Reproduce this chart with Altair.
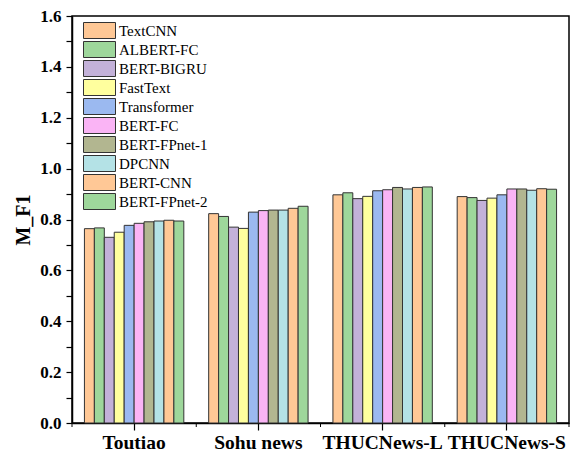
import altair as alt
import pandas as pd

datasets = ["Toutiao", "Sohu news", "THUCNews-L", "THUCNews-S"]
models = ["TextCNN", "ALBERT-FC", "BERT-BIGRU", "FastText", "Transformer",
          "BERT-FC", "BERT-FPnet-1", "DPCNN", "BERT-CNN", "BERT-FPnet-2"]
colors = ["#FFC896", "#9ED79B", "#C3B1D9", "#FFFF9E", "#9BB9F0",
          "#FAB4F5", "#B2B690", "#B4E2E6", "#FFC896", "#9ED79B"]

toutiao = [0.764, 0.767, 0.730, 0.750, 0.777, 0.785, 0.791, 0.794, 0.797, 0.794]
sohu = [0.823, 0.812, 0.770, 0.765, 0.829, 0.835, 0.837, 0.837, 0.844, 0.852]
thuc_l = [0.897, 0.905, 0.882, 0.891, 0.913, 0.917, 0.926, 0.920, 0.926, 0.928]
thuc_s = [0.890, 0.886, 0.875, 0.884, 0.897, 0.920, 0.920, 0.915, 0.921, 0.919]

y_ticks = [0.0, 0.1, 0.2, 0.3, 0.4, 0.5, 0.6, 0.7, 0.8, 0.9, 1.0, 1.1, 1.2, 1.3, 1.4, 1.5, 1.6]

rows = []
for ds, vals in zip(datasets, [toutiao, sohu, thuc_l, thuc_s]):
    for m, v in zip(models, vals):
        rows.append({"dataset": ds, "model": m, "value": v})
df = pd.DataFrame(rows)
cat_df = pd.DataFrame({"dataset": datasets})
last_df = pd.DataFrame({"dataset": datasets[-1:]})

W, H = 497, 407
PAD_INNER = 0.2
STEP = W / len(datasets)
SERIF = "Liberation Serif"

xscale = alt.Scale(domain=datasets, paddingInner=PAD_INNER, paddingOuter=PAD_INNER / 2)

bars = alt.Chart(df).mark_bar(stroke="#333333", strokeWidth=1).encode(
    x=alt.X("dataset:N", sort=datasets, scale=xscale,
            axis=alt.Axis(title=None, labelAngle=0, labelFont=SERIF, labelFontSize=19.5,
                          labelFontWeight="bold", labelColor="black", tickSize=7,
                          tickColor="black", domainColor="black", labelPadding=3)),
    xOffset=alt.XOffset("model:N", sort=models, scale=alt.Scale(domain=models, paddingInner=0, paddingOuter=0)),
    y=alt.Y("value:Q", scale=alt.Scale(domain=[0, 1.6], nice=False),
            axis=alt.Axis(title="M_F1", values=y_ticks, grid=False,
                          labelExpr="(round(datum.value*10) % 2 == 0) ? format(datum.value, '.1f') : ''",
                          labelFont=SERIF, labelFontSize=17, labelFontWeight="bold",
                          labelColor="black", tickSize=6, tickColor="black",
                          domainColor="black", labelPadding=5,
                          titleFont=SERIF, titleFontSize=20, titleFontWeight="bold",
                          titleColor="black", titlePadding=6)),
    color=alt.Color("model:N", sort=models,
                    scale=alt.Scale(domain=models, range=colors),
                    legend=alt.Legend(title=None, orient="none", legendX=11, legendY=6,
                                      symbolType="M-1,-1L3,-1L3,1L-1,1Z", symbolSize=256,
                                      symbolStrokeColor="#333333", symbolStrokeWidth=1,
                                      symbolOpacity=1,
                                      labelFont=SERIF, labelFontSize=15, labelColor="black",
                                      labelOffset=19, rowPadding=-3.1, padding=0)),
)

minor_left = alt.Chart(cat_df).mark_rule(color="black", xOffset=-STEP * PAD_INNER / 2).encode(
    x=alt.X("dataset:N", sort=datasets, scale=xscale, bandPosition=0),
    y=alt.value(H), y2=alt.value(H + 4),
)
minor_right = alt.Chart(last_df).mark_rule(color="black", xOffset=STEP * PAD_INNER / 2).encode(
    x=alt.X("dataset:N", sort=datasets, scale=xscale, bandPosition=1),
    y=alt.value(H), y2=alt.value(H + 4),
)

chart = alt.layer(bars, minor_left, minor_right).properties(
    width=W, height=H,
    autosize=alt.AutoSizeParams(type="none"),
    padding={"left": 64, "top": 8, "right": 6, "bottom": 29},
).configure_view(stroke="black", strokeWidth=1.5).configure_axis(domainWidth=1.5, tickWidth=1.2)

chart.save("out.html", embed_options={"renderer": "svg", "actions": False})
